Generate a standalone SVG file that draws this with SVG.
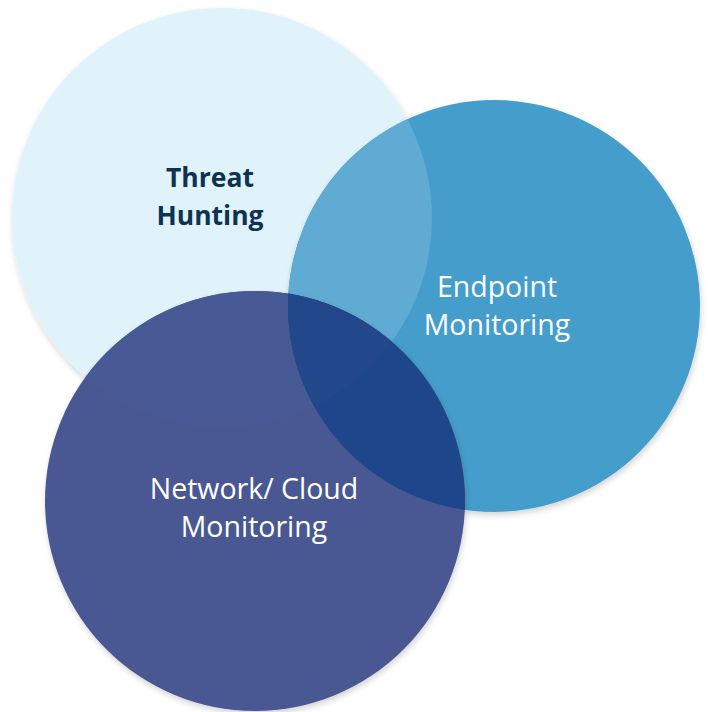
<svg xmlns="http://www.w3.org/2000/svg" width="708" height="712" viewBox="0 0 708 712">
  <defs>
    <filter id="sh" x="-10%" y="-10%" width="125%" height="125%">
      <feGaussianBlur in="SourceAlpha" stdDeviation="3"/>
      <feOffset dx="1" dy="3"/>
      <feComponentTransfer><feFuncA type="linear" slope="0.18"/></feComponentTransfer>
      <feMerge><feMergeNode/><feMergeNode in="SourceGraphic"/></feMerge>
    </filter>
    <clipPath id="cL"><circle cx="222" cy="218" r="210"/></clipPath>
    <clipPath id="cE"><circle cx="494" cy="306" r="206"/></clipPath>
    <clipPath id="cN"><circle cx="255" cy="501" r="210"/></clipPath>
    <style>
      .lbl { font-family: "Open Sans", "Liberation Sans", sans-serif; font-size: 28.5px; fill: #FFFFFF; text-anchor: middle; }
      .dark { fill: #0E3352; font-weight: bold; font-size: 26.5px; }
    </style>
  </defs>
  <rect width="708" height="712" fill="#FFFFFF"/>
  <g id="threat-hunting">
    <circle cx="222" cy="218" r="210" fill="#E0F2FA" filter="url(#sh)"/>
  </g>
  <g id="endpoint-monitoring">
    <circle cx="494" cy="306" r="206" fill="#459DCB" filter="url(#sh)"/>
    <g clip-path="url(#cL)">
      <circle cx="494" cy="306" r="206" fill="#5FABD3"/>
    </g>
  </g>
  <g id="network-cloud-monitoring">
    <circle cx="255" cy="501" r="210" fill="#4A5992" filter="url(#sh)"/>
    <g clip-path="url(#cL)">
      <circle cx="255" cy="501" r="210" fill="#475A95"/>
    </g>
    <g clip-path="url(#cE)">
      <circle cx="255" cy="501" r="210" fill="#1E468A"/>
      <g clip-path="url(#cL)">
        <circle cx="255" cy="501" r="210" fill="#22488B"/>
      </g>
    </g>
  </g>
  <g id="labels">
    <text class="lbl dark" x="210" y="187">Threat</text>
    <text class="lbl dark" x="210" y="225">Hunting</text>
    <text class="lbl" x="497" y="297">Endpoint</text>
    <text class="lbl" x="497" y="335">Monitoring</text>
    <text class="lbl" x="254" y="499">Network/ Cloud</text>
    <text class="lbl" x="254" y="537">Monitoring</text>
  </g>
  <g id="connectors"/>
</svg>
